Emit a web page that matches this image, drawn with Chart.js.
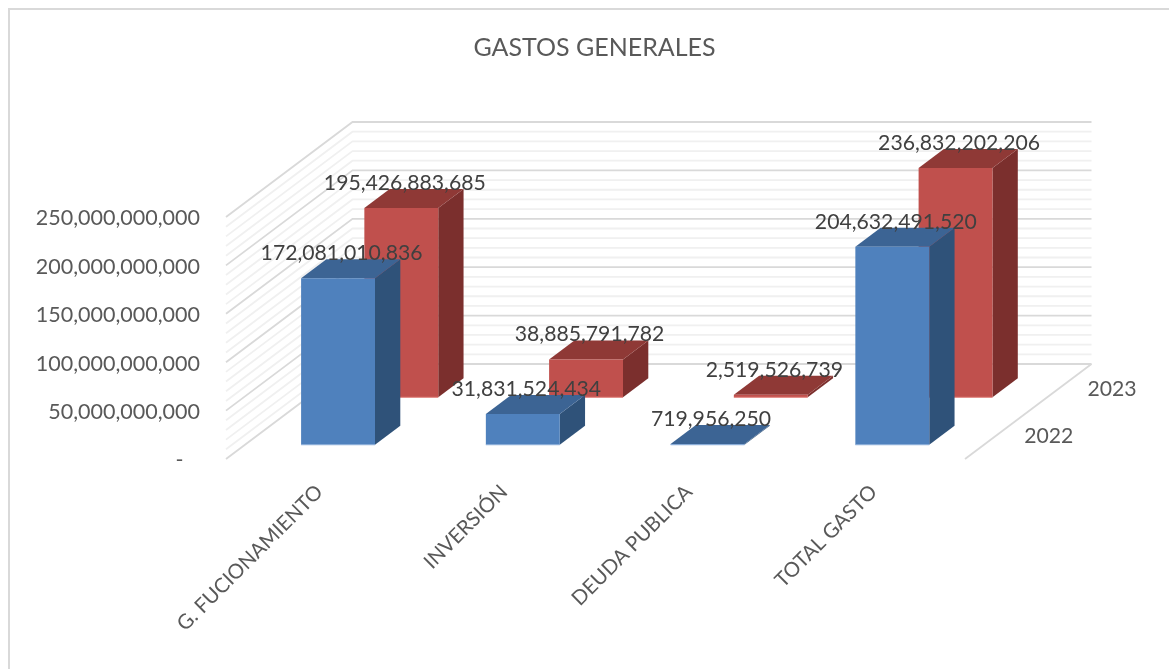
<!DOCTYPE html>
<html>
<head>
<meta charset="utf-8">
<style>html,body{margin:0;padding:0;background:#fff}#w{position:relative;width:1169px;height:669px}</style>
<script src="https://cdn.jsdelivr.net/npm/chart.js@4/dist/chart.umd.min.js"></script>
</head>
<body>
<div id="w"><canvas id="c" width="1169" height="669"></canvas></div>
<script>
const categories = ['G. FUCIONAMIENTO', 'INVERSIÓN', 'DEUDA PUBLICA', 'TOTAL GASTO'];
const seriesNames = ['2022', '2023'];
const values2022 = [172081010836, 31831524434, 719956250, 204632491520];
const values2023 = [195426883685, 38885791782, 2519526739, 236832202206];
const yMax = 250000000000;
const yMajor = 50000000000;
const yMinor = 10000000000;
const FONT = 'Lato, "Open Sans", sans-serif';
const DEPTH = {x: 126.5, y: -95};
const BAR_DEPTH_RATIO = 0.4;
const faces = [
  {front: '#4F81BD', side: '#2F5279', top: '#3C6494', edge: '#8FB0DA'},
  {front: '#C0504D', side: '#7B2F2D', top: '#8F3936', edge: '#E07C78'}
];
function fmt(v){ return v.toLocaleString('en-US'); }

function cellOffset(i){
  const n = seriesNames.length;
  const f = (i + 0.5 - BAR_DEPTH_RATIO / 2) / n;
  return {x: DEPTH.x * f + 0.7, y: DEPTH.y * f};
}
const barDepth = {x: DEPTH.x * BAR_DEPTH_RATIO / seriesNames.length, y: DEPTH.y * BAR_DEPTH_RATIO / seriesNames.length};

const poly = (ctx, pts, fill) => {
  ctx.beginPath();
  pts.forEach((p, i) => i ? ctx.lineTo(p[0], p[1]) : ctx.moveTo(p[0], p[1]));
  ctx.closePath();
  ctx.fillStyle = fill;
  ctx.fill();
};

const walls3d = {
  id: 'walls3d',
  beforeDraw(chart){
    const ctx = chart.ctx, y = chart.scales.y, a = chart.chartArea;
    ctx.save();
    ctx.strokeStyle = '#D9D9D9';
    ctx.lineWidth = 2;
    ctx.strokeRect(9, 9, 1400, 1400);
    const line = (v, color, w) => {
      const py = y.getPixelForValue(v);
      ctx.strokeStyle = color; ctx.lineWidth = w;
      ctx.beginPath();
      ctx.moveTo(a.left, py);
      ctx.lineTo(a.left + DEPTH.x, py + DEPTH.y);
      ctx.lineTo(a.right + DEPTH.x, py + DEPTH.y);
      ctx.stroke();
    };
    for (let v = 0; v <= yMax; v += yMinor) if (v % yMajor) line(v, '#F0F0F0', 1.8);
    for (let v = 0; v <= yMax; v += yMajor) line(v, '#D9D9D9', 1.8);
    ctx.strokeStyle = '#D9D9D9'; ctx.lineWidth = 1.8;
    ctx.beginPath();
    ctx.moveTo(a.right, a.bottom);
    ctx.lineTo(a.right + DEPTH.x, a.bottom + DEPTH.y);
    ctx.stroke();
    ctx.restore();
  },
  beforeDatasetDraw(chart, args){
    const ctx = chart.ctx, i = args.index, off = cellOffset(i), c = faces[i];
    args.meta.data.forEach(el => {
      const l = el.x - el.width / 2 + off.x, r = el.x + el.width / 2 + off.x;
      const t = el.y + off.y, b = el.base + off.y;
      const dx = barDepth.x, dy = barDepth.y;
      poly(ctx, [[r, t], [r + dx, t + dy], [r + dx, b + dy], [r, b]], c.side);
      poly(ctx, [[l, t], [l + dx, t + dy], [r + dx, t + dy], [r, t]], c.top);
      poly(ctx, [[l, t], [r, t], [r, b], [l, b]], c.front);
      ctx.fillStyle = c.edge;
      ctx.fillRect(l, b - 0.5, r - l, 1);
    });
    return false;
  },
  afterDatasetsDraw(chart){
    const ctx = chart.ctx, a = chart.chartArea;
    ctx.save();
    ctx.font = '21.2px ' + FONT;
    ctx.textAlign = 'center';
    ctx.textBaseline = 'middle';
    ctx.fillStyle = '#404040';
    [1, 0].forEach(i => {
      const off = cellOffset(i);
      chart.getDatasetMeta(i).data.forEach((el, k) => {
        const v = chart.data.datasets[i].data[k];
        ctx.fillText(fmt(v), el.x + off.x + 3.5, el.y + off.y - 25);
      });
    });
    ctx.fillStyle = '#595959';
    ctx.textAlign = 'left';
    seriesNames.forEach((n, i) => {
      const f = (i + 0.5) / seriesNames.length;
      ctx.fillText(n, a.right + DEPTH.x * f + 27.5, a.bottom + DEPTH.y * f + 1);
    });
    ctx.restore();
  }
};

new Chart(document.getElementById('c'), {
  type: 'bar',
  data: {
    labels: categories,
    datasets: [
      {label: seriesNames[0], data: values2022, backgroundColor: faces[0].front},
      {label: seriesNames[1], data: values2023, backgroundColor: faces[1].front}
    ]
  },
  options: {
    responsive: false,
    animation: false,
    layout: {padding: {left: 20, right: 0, top: 0, bottom: 0}},
    datasets: {bar: {grouped: false, categoryPercentage: 1, barPercentage: 0.4}},
    plugins: {
      legend: {display: false},
      tooltip: {enabled: false},
      title: {
        display: true,
        text: 'GASTOS GENERALES',
        color: '#595959',
        font: {family: FONT, size: 25, weight: 'normal', lineHeight: 1.2},
        align: 'center',
        padding: {top: 33, bottom: 154}
      }
    },
    scales: {
      x: {
        grid: {display: false},
        border: {display: false},
        afterFit(s){ s.height = 210; },
        ticks: {
          color: '#595959',
          font: {family: FONT, size: 20.4},
          maxRotation: 45, minRotation: 45,
          autoSkip: false,
          labelOffset: 1,
          padding: 13
        }
      },
      y: {
        min: 0, max: yMax,
        grid: {display: false},
        border: {display: false},
        afterFit(s){ s.width = 206; },
        ticks: {
          stepSize: yMajor,
          color: '#595959',
          font: {family: FONT, size: 21.5},
          padding: 18,
          labelOffset: 1.5,
          callback: v => v === 0 ? '-   ' : fmt(v)
        }
      },
      rightGap: {
        type: 'linear',
        position: 'right',
        grid: {display: false},
        border: {display: false},
        ticks: {display: false},
        afterFit(s){ s.width = 204; }
      }
    }
  },
  plugins: [walls3d]
});
</script>
</body>
</html>
